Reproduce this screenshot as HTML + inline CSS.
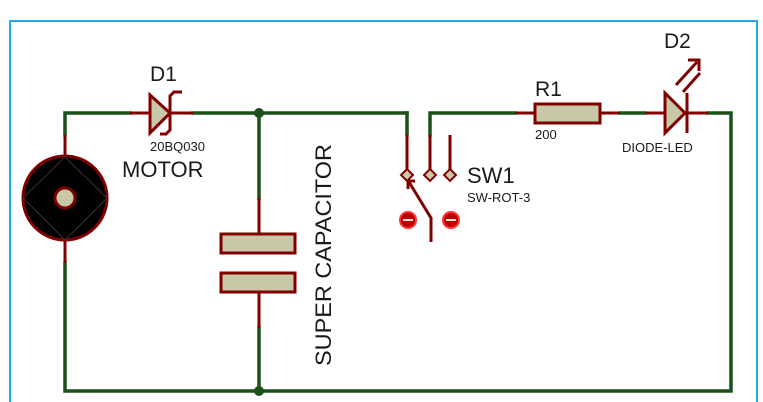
<!DOCTYPE html>
<html><head><style>
body{margin:0;background:#fff;}
svg{display:block;}
text{font-family:"Liberation Sans",Arial,sans-serif;fill:#1a1a1a;}
</style></head><body>
<svg width="763" height="402" viewBox="0 0 763 402" xmlns="http://www.w3.org/2000/svg">
<rect x="10" y="21" width="747" height="400" fill="none" stroke="#29a8e0" stroke-width="2"/>
<g fill="none" stroke="#1a501a" stroke-width="3.5" stroke-linecap="square">
<polyline points="65,135 65,113 130,113"/>
<line x1="193" y1="113" x2="407" y2="113"/>
<line x1="407" y1="113" x2="407" y2="135"/>
<polyline points="430,135 430,113 515,113"/>
<line x1="620" y1="113" x2="645" y2="113"/>
<polyline points="708,113 731,113 731,391 65,391 65,263"/>
<line x1="259" y1="113" x2="259" y2="198"/>
<line x1="259" y1="328" x2="259" y2="391"/>
</g>
<circle cx="259" cy="113" r="5" fill="#1a501a"/>
<circle cx="259" cy="391" r="5" fill="#1a501a"/>
<g stroke="#800000" stroke-width="3" fill="none">
<line x1="65" y1="135" x2="65" y2="156"/>
<line x1="65" y1="241" x2="65" y2="263"/>
<line x1="130" y1="113" x2="193" y2="113"/>
<line x1="259" y1="198" x2="259" y2="234"/>
<line x1="259" y1="292" x2="259" y2="328"/>
<line x1="407" y1="135" x2="407" y2="171"/>
<line x1="430" y1="135" x2="430" y2="171"/>
<line x1="450" y1="135" x2="450" y2="171"/>
<line x1="515" y1="113" x2="535" y2="113"/>
<line x1="600" y1="113" x2="620" y2="113"/>
<line x1="645" y1="113" x2="708" y2="113"/>
</g>
<circle cx="65" cy="198" r="42" fill="#000" stroke="#800000" stroke-width="3"/>
<polygon points="65,157 107,198 65,240 23,198" fill="none" stroke="#333" stroke-width="1"/>
<circle cx="65" cy="198" r="10" fill="#c8c8a8" stroke="#800000" stroke-width="3"/>
<polygon points="150,95 170,113 150,133" fill="#c8c8a8" stroke="#800000" stroke-width="3"/>
<polyline points="182,92 174,92 170,96 170,130 166,134 160,134" fill="none" stroke="#800000" stroke-width="3"/>
<rect x="221" y="234" width="74" height="19" fill="#c8c8a8" stroke="#800000" stroke-width="3"/>
<rect x="221" y="273" width="74" height="19" fill="#c8c8a8" stroke="#800000" stroke-width="3"/>
<g fill="#c8c8a8" stroke="#800000" stroke-width="2">
<polygon points="407,169 413,175 407,181 401,175"/>
<polygon points="430,169 436,175 430,181 424,175"/>
<polygon points="450,169 456,175 450,181 444,175"/>
</g>
<g stroke="#800000" stroke-width="3" fill="none">
<polyline points="431,242 431,218 409,182"/>
<polyline points="408,189 408,181 415,181"/>
</g>
<g>
<circle cx="408" cy="220" r="8" fill="#b00" stroke="#f33" stroke-width="2"/>
<line x1="403" y1="220" x2="413" y2="220" stroke="#fdd" stroke-width="2"/>
<circle cx="451" cy="220" r="8" fill="#b00" stroke="#f33" stroke-width="2"/>
<line x1="446" y1="220" x2="456" y2="220" stroke="#fdd" stroke-width="2"/>
</g>
<rect x="535" y="104" width="65" height="19" fill="#c8c8a8" stroke="#800000" stroke-width="3"/>
<polygon points="665,93 685,113 665,133" fill="#c8c8a8" stroke="#800000" stroke-width="3"/>
<line x1="687" y1="93" x2="687" y2="133" stroke="#800000" stroke-width="3"/>
<g stroke="#800000" stroke-width="3" fill="none">
<line x1="676" y1="85" x2="697" y2="62"/>
<line x1="683" y1="92" x2="700" y2="73"/>
<polyline points="688,60 699,60 699,71"/>
</g>
<text x="150" y="81" font-size="21">D1</text>
<text x="150" y="151" font-size="13">20BQ030</text>
<text x="122" y="177" font-size="22">MOTOR</text>
<text transform="translate(331,366) rotate(-90)" font-size="22" textLength="222" lengthAdjust="spacingAndGlyphs">SUPER CAPACITOR</text>
<text x="467" y="183" font-size="22">SW1</text>
<text x="467" y="202" font-size="13">SW-ROT-3</text>
<text x="535" y="96" font-size="21">R1</text>
<text x="535" y="139" font-size="13">200</text>
<text x="664" y="48" font-size="21">D2</text>
<text x="622" y="152" font-size="13">DIODE-LED</text>
</svg>
</body></html>
